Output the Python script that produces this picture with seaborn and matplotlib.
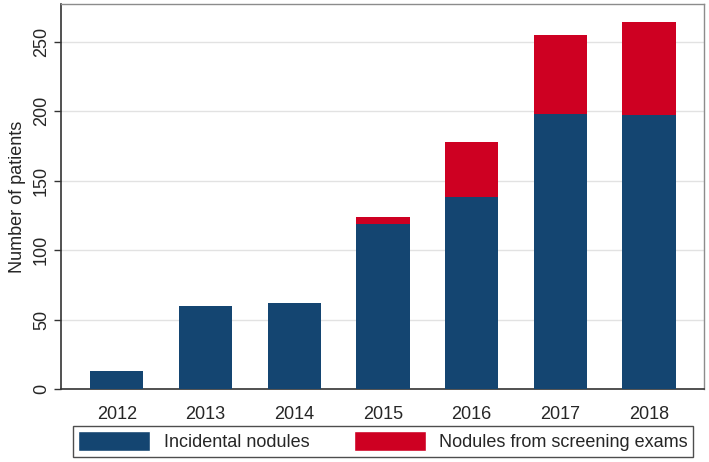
import matplotlib
import matplotlib.pyplot as plt
import pandas as pd
import seaborn as sns
from matplotlib.patches import Patch

matplotlib.use("Agg")

YEARS = ["2012", "2013", "2014", "2015", "2016", "2017", "2018"]
INCIDENTAL = [13, 60, 62, 119, 138, 198, 197]
SCREENING = [0, 0, 0, 5, 40, 57, 67]
Y_TICKS = [0, 50, 100, 150, 200, 250]

BLUE = "#144571"
RED = "#CE0022"
FONT_SIZE = 13

sns.set_theme(style="white")
plt.rcParams["font.family"] = ["Liberation Sans", "DejaVu Sans"]

df = pd.DataFrame({"Year": YEARS, "Incidental": INCIDENTAL, "Screening": SCREENING})
df["Total"] = df["Incidental"] + df["Screening"]

fig = plt.figure(figsize=(7.09, 4.62), dpi=100)
ax = fig.add_axes([61 / 709, 1 - 389 / 462, 643 / 709, 385 / 462])

# stacked look: totals in red, incidental drawn over them in blue
sns.barplot(data=df, x="Year", y="Total", color=RED, saturation=1, width=0.6, ax=ax, zorder=2)
sns.barplot(data=df, x="Year", y="Incidental", color=BLUE, saturation=1, width=0.6, ax=ax, zorder=3)
for bar in ax.patches:
    bar.set_linewidth(0)

ax.set_xlim(-0.63, 6.62)
ax.set_ylim(0, 277)
ax.set_yticks(Y_TICKS)
ax.yaxis.grid(True, color="#e2e2e2", linewidth=1.0, zorder=0)
ax.set_axisbelow(True)

ax.set_xlabel("")
ax.set_ylabel("Number of patients", fontsize=FONT_SIZE, labelpad=5)
ax.tick_params(axis="y", left=True, length=5, width=1, color="#333333", labelsize=FONT_SIZE, pad=3)
for label in ax.get_yticklabels():
    label.set_rotation(90)
    label.set_va("center")
ax.tick_params(axis="x", bottom=False, labelsize=FONT_SIZE, pad=6)

for side in ["left", "bottom"]:
    ax.spines[side].set_color("#333333")
    ax.spines[side].set_linewidth(1.2)
for side in ["top", "right"]:
    ax.spines[side].set_color("#8c8c8c")
    ax.spines[side].set_linewidth(1.0)

handles = [Patch(facecolor=BLUE, label="Incidental nodules"),
           Patch(facecolor=RED, label="Nodules from screening exams")]
legend = fig.legend(handles=handles, loc="upper center", ncol=2, bbox_to_anchor=(383 / 709, 1 - 426 / 462),
                    frameon=True, fancybox=False, fontsize=FONT_SIZE, handlelength=4.0, handleheight=1.3,
                    handletextpad=0.75, columnspacing=2.45, borderpad=0.3, borderaxespad=0)
legend.get_frame().set_edgecolor("#222222")
legend.get_frame().set_linewidth(1.0)

plt.savefig("out.png", dpi=100)
plt.close()
